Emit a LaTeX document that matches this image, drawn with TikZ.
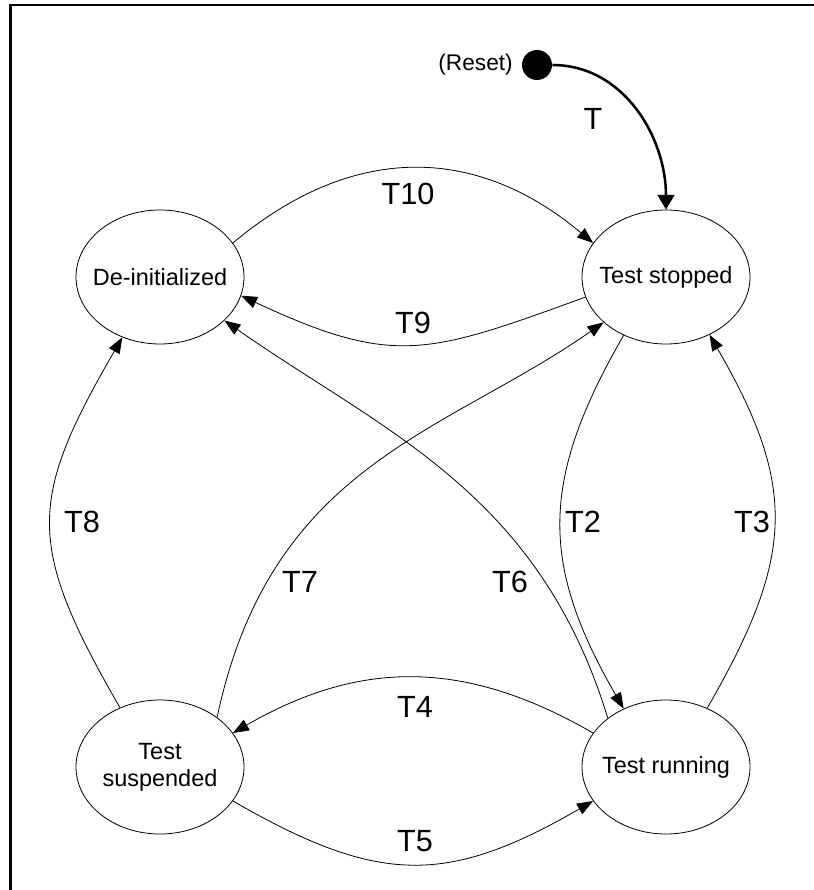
\documentclass[tikz,border=0pt]{standalone}
\usepackage{fontspec}
\setmainfont{Liberation Sans}
\usetikzlibrary{arrows.meta}
\usetikzlibrary{shapes}

\begin{document}
\begin{tikzpicture}[x=0.75pt, y=0.75pt,
    state/.style={ellipse, draw, line width=0.6pt, minimum width=126pt, minimum height=100.5pt,
      inner xsep=-8pt, inner ysep=0pt, align=center, font=\fontsize{17.6}{20.3}\selectfont},
    trans/.style={line width=0.6pt, -{Triangle[length=12pt, width=9pt]}},
    tlabel/.style={inner sep=0pt, font=\fontsize{23}{26}\selectfont}]
    \useasboundingbox (0, 0) rectangle (814, 890);
    \draw[line width=2.2pt] (10.5, 0) -- (10.5, 885) -- (814, 885);

    \node[state] (deinit) at (160, 613) {De-initialized};
    \node[state] (stopped) at (666, 613) {Test stopped};
    \node[state] (suspended) at (160, 123) {Test\\suspended};
    \node[state] (running) at (666, 123) {Test running};
    \node[circle, fill, minimum size=22.5pt, inner sep=0pt] (reset) at (537, 825) {};
    \node[anchor=east, inner sep=0pt, font=\fontsize{17}{20}\selectfont] (resettext) at (513, 825) {(Reset)};

    \draw[line width=1.9pt, -{Triangle[length=11pt, width=12.5pt]}] (reset.east) to[out=0, in=90] (stopped.90);
    \node[tlabel] (t) at (593, 771) {T};

    \draw[trans] (deinit.25) to[out=40, in=140, looseness=1.1] (stopped.155);
    \node[tlabel] (t10) at (408, 696) {T10};
    \draw[trans] (stopped.194) to[out=200, in=335, looseness=1.25] (deinit.347);
    \node[tlabel] (t9) at (413, 567) {T9};
    \draw[trans] (suspended.124) to[out=120, in=240, looseness=1.3] (deinit.238);
    \node[tlabel] (t8) at (82, 368) {T8};
    \draw[trans] (suspended.41) to[out=78, in=215, out looseness=1.2, in looseness=0.9] (stopped.216);
    \node[tlabel] (t7) at (300, 308) {T7};
    \draw[trans] (running.140) to[out=107, in=-35, out looseness=1.1, in looseness=0.9] (deinit.326);
    \node[tlabel] (t6) at (510, 308) {T6};
    \draw[trans] (stopped.234) to[out=240, in=120, looseness=1.15] (running.126);
    \node[tlabel] (t2) at (583, 368) {T2};
    \draw[trans] (running.55) to[out=60, in=300, looseness=1.2] (stopped.307);
    \node[tlabel] (t3) at (752, 368) {T3};
    \draw[trans] (running.155) to[out=150, in=30, looseness=1.05] (suspended.25);
    \node[tlabel] (t4) at (415, 183) {T4};
    \draw[trans] (suspended.335) to[out=-30, in=210, looseness=1.2] (running.205);
    \node[tlabel] (t5) at (415, 49) {T5};
\end{tikzpicture}
\end{document}
